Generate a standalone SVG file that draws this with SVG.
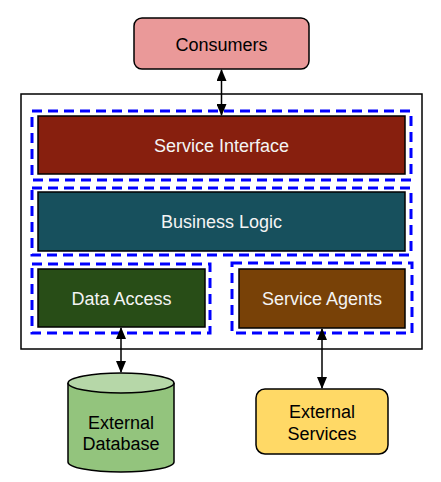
<svg xmlns="http://www.w3.org/2000/svg" width="441" height="482" viewBox="0 0 441 482">
<defs>
<style>
text{font-family:"Liberation Sans",Arial,sans-serif;font-size:18px;text-anchor:middle;dominant-baseline:central}
.lt{fill:#f4f4f4}
.dk{fill:#000000}
.box{stroke:#000;stroke-width:1.5}
.dash{fill:none;stroke:#0000ff;stroke-width:3;stroke-dasharray:10,6}
.conn{stroke:#000;stroke-width:1.5;fill:none}
</style>
<marker id="ah" viewBox="0 0 12 10" refX="11" refY="5" markerWidth="12" markerHeight="10" markerUnits="userSpaceOnUse" orient="auto-start-reverse">
<path d="M0,0 L12,5 L0,10 z" fill="#000"/>
</marker>
</defs>
<g id="container">
<rect x="21" y="94" width="401" height="255" fill="#fff" stroke="#000" stroke-width="1.5"/>
</g>
<g id="service-interface">
<rect class="dash" x="32" y="111" width="379" height="69"/>
<rect class="box" x="38" y="116" width="367" height="58" fill="#871f0e"/>
<text class="lt" x="221.5" y="146">Service Interface</text>
</g>
<g id="business-logic">
<rect class="dash" x="32" y="188" width="379" height="67"/>
<rect class="box" x="38" y="192" width="367" height="59" fill="#17505d"/>
<text class="lt" x="221.5" y="222">Business Logic</text>
</g>
<g id="data-access">
<rect class="dash" x="32" y="264" width="178" height="69"/>
<rect class="box" x="38" y="269" width="167" height="58" fill="#284d17"/>
<text class="lt" x="121.5" y="299">Data Access</text>
</g>
<g id="service-agents">
<rect class="dash" x="232" y="263" width="180" height="70"/>
<rect class="box" x="239" y="269" width="166" height="59" fill="#784107"/>
<text class="lt" x="322" y="299">Service Agents</text>
</g>
<g id="consumers">
<rect class="box" x="134" y="18" width="175" height="51" rx="8" fill="#ea9999"/>
<text class="dk" x="221.5" y="45">Consumers</text>
</g>
<g id="external-database">
<path class="box" d="M68,383 L68,462 A53,10 0 0 0 174,462 L174,383" fill="#93c47d"/>
<ellipse class="box" cx="121" cy="383" rx="53" ry="10" fill="#b6d7a8"/>
<text class="dk" x="121" y="423">External</text>
<text class="dk" x="121" y="444">Database</text>
</g>
<g id="external-services">
<rect class="box" x="256" y="389" width="132" height="65" rx="9" fill="#ffd966"/>
<text class="dk" x="322" y="412">External</text>
<text class="dk" x="322" y="434">Services</text>
</g>
<g id="connectors">
<line class="conn" x1="221.5" y1="70" x2="221.5" y2="115" marker-start="url(#ah)" marker-end="url(#ah)"/>
<line class="conn" x1="121" y1="328" x2="121" y2="372" marker-start="url(#ah)" marker-end="url(#ah)"/>
<line class="conn" x1="322" y1="329" x2="322" y2="388" marker-start="url(#ah)" marker-end="url(#ah)"/>
</g>
</svg>
